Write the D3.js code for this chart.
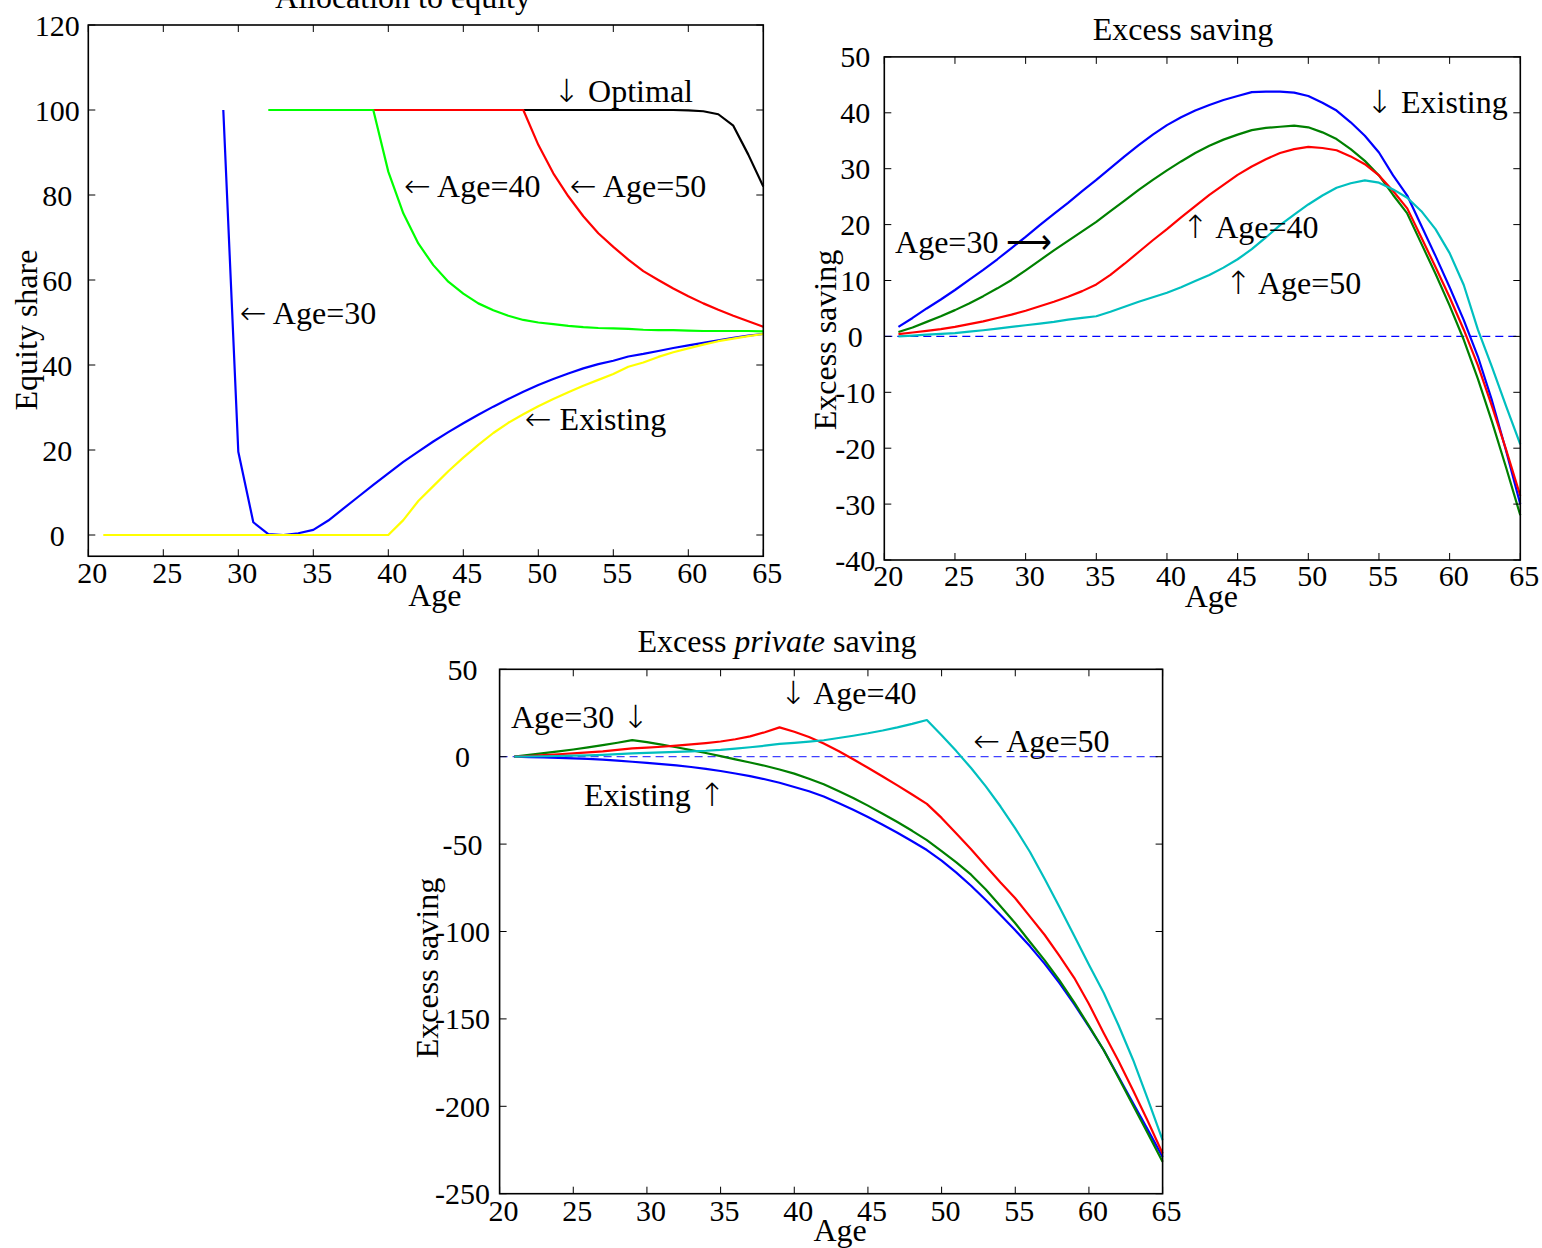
<!DOCTYPE html>
<html>
<head>
<meta charset="utf-8">
<script src="https://cdn.jsdelivr.net/npm/d3@7/dist/d3.min.js"></script>
<style>
body{margin:0;background:#fff;}
svg text{font-family:"Liberation Serif","DejaVu Serif",serif;fill:#000;}
</style>
</head>
<body>
<svg id="fig" width="1542" height="1248"></svg>
<script>
// ---------- data ----------
var ageTicks = [20,25,30,35,40,45,50,55,60,65];

// panel 1 : allocation to equity (each series has its own first age)
var eqTicks = [0,20,40,60,80,100,120];
var eqOptimalStart = 49;
var eqOptimal = [100,100,100,100,100,100,100,100,100,100,100,99.9,99.7,99.0,96.3,89.5,82];
var eqAge50Start = 34;
var eqAge50 = [100,100,100,100,100,100,100,100,100,100,100,100,100,100,100,100,
               91.8,85.1,79.7,75.0,71.0,67.8,64.8,62.1,60.0,58.0,56.2,54.5,53.0,51.6,50.3,49.0];
var eqAge40Start = 32;
var eqAge40 = [100,100,100,100,100,100,100,100,
               85.5,75.7,68.6,63.5,59.6,56.8,54.5,52.9,51.6,50.6,50.0,49.6,49.2,48.9,48.7,
               48.6,48.5,48.3,48.2,48.2,48.1,48.0,48.0,48.0,48.0,47.9];
var eqAge30Start = 29;
var eqAge30 = [100,19.6,3.0,0.2,0,0.4,1.2,3.4,6.2,9.0,11.8,14.5,17.2,19.6,22.0,24.2,26.3,
               28.3,30.2,32.0,33.7,35.3,36.7,38.0,39.2,40.2,41.0,42.0,42.6,43.3,44.0,44.6,
               45.2,45.8,46.4,46.9,47.3];
var eqExistingStart = 21;
var eqExisting = [0,0,0,0,0,0,0,0,0,0,0,0,0,0,0,0,0,0,0,0,
                  3.5,8.0,11.5,15.0,18.2,21.2,24.0,26.4,28.4,30.3,32.0,33.6,35.1,36.5,37.9,
                  39.6,40.6,41.9,43.0,43.9,44.8,45.6,46.2,46.8,47.3];

// panel 2 : excess saving, ages 21..65
var exTicks = [-40,-30,-20,-10,0,10,20,30,40,50];
var exExisting = [1.7,3.3,5.0,6.6,8.3,10.1,11.9,13.8,15.8,17.8,19.9,21.9,23.9,26.0,28.0,
                  30.1,32.2,34.2,36.1,37.8,39.2,40.4,41.4,42.3,43.0,43.7,43.8,43.8,43.6,43.0,
                  41.8,40.4,38.3,35.9,32.9,28.8,25.2,19.8,14.4,8.8,2.9,-3.6,-11.5,-20.5,-30.0];
var exAge30 = [0.8,1.6,2.6,3.6,4.7,5.9,7.2,8.6,10.1,11.8,13.6,15.4,17.1,18.8,20.5,
               22.4,24.3,26.2,28.0,29.7,31.3,32.8,34.1,35.2,36.1,36.9,37.3,37.5,37.7,37.4,
               36.5,35.3,33.5,31.4,28.8,25.3,22.0,16.6,11.2,5.5,-0.6,-7.6,-15.3,-23.5,-32.0];
var exAge40 = [0.4,0.7,1.0,1.3,1.7,2.2,2.7,3.3,3.9,4.6,5.4,6.2,7.1,8.1,9.3,
               11.0,13.0,15.1,17.2,19.2,21.3,23.3,25.3,27.1,28.9,30.4,31.7,32.8,33.5,33.9,
               33.7,33.3,32.2,30.8,28.8,26.0,22.9,17.7,12.4,7.0,1.2,-5.2,-12.5,-20.3,-28.5];
var exAge50 = [0.0,0.15,0.3,0.45,0.6,0.85,1.1,1.4,1.7,2.0,2.3,2.6,3.0,3.3,3.6,
               4.4,5.3,6.2,7.0,7.8,8.8,9.9,11.0,12.3,13.8,15.6,17.7,19.9,21.8,23.6,
               25.2,26.6,27.4,27.9,27.5,26.3,24.8,22.4,19.2,14.9,9.2,1.2,-5.5,-12.5,-19.3];

// panel 3 : excess private saving, ages 21..65
var prTicks = [-250,-200,-150,-100,-50,0,50];
var prExisting = [0,-0.2,-0.4,-0.7,-1.0,-1.3,-1.7,-2.2,-2.9,-3.5,-4.2,-5.0,-5.9,-7.0,-8.2,
                  -9.6,-11.1,-12.9,-14.9,-17.3,-19.8,-22.8,-26.5,-30.4,-34.5,-38.9,-43.5,-48.4,-53.4,-59.5,
                  -66.3,-73.8,-82,-90.6,-99.3,-108.5,-118.5,-129.5,-141.5,-154.5,-167.8,-183,-198.3,-213.5,-229];
var prAge30 = [0,1.0,2.0,3.0,4.1,5.3,6.6,8.0,9.5,8.3,6.9,5.4,3.8,2.1,0.3,
               -1.5,-3.3,-5.2,-7.3,-9.7,-12.6,-15.8,-19.6,-23.6,-28,-32.6,-37.4,-42.4,-47.7,-54,
               -60.5,-67.5,-76,-85.5,-95.3,-106,-116.5,-128,-140.5,-154,-167.8,-183.5,-199.5,-215.5,-231.7];
var prAge40 = [0,0.4,0.9,1.4,1.9,2.5,3.1,3.9,4.8,5.2,5.7,6.3,7.0,7.8,8.7,
               10.0,11.6,14.0,16.8,14.3,11.3,7.5,3.3,-1.5,-6.3,-11.3,-16.4,-21.6,-27,-35,
               -44,-53,-62.5,-72,-81,-91.5,-102,-114,-126.5,-141.5,-158,-174,-191,-208.5,-227];
var prAge50 = [0,0.1,0.25,0.4,0.6,0.8,1.1,1.5,1.9,2.2,2.5,2.8,3.1,3.4,3.9,
               4.6,5.4,6.3,7.3,7.9,8.6,9.4,10.7,12.0,13.4,15.0,16.8,18.8,21.0,12.3,
               3.2,-6.5,-17,-28.5,-41,-54.5,-70,-86,-102.5,-119,-135,-153.5,-173.5,-196,-219.3];

// ---------- drawing ----------
var svg = d3.select('#fig');

var toPoints = function(start, vals){
    return vals.map(function(v, i){ return {age: start + i, v: v}; });
};

// arrows get a font whose arrow glyphs are closer to the TeX ones
var addRichText = function(sel, str){
    str.split(/([\u2190\u2191\u2193\u27f6])/).forEach(function(part){
        if(!part) return;
        var isArrow = /[\u2190\u2191\u2193\u27f6]/.test(part);
        sel.append('tspan')
            .style('font-family', isArrow ? '"DejaVu Sans",sans-serif' : null)
            .attr('font-weight', isArrow ? 200 : null)
            .text(part);
    });
};

var drawPanel = function(p){
    var x = d3.scaleLinear().domain([20,65]).range([p.left, p.right]);
    var y = d3.scaleLinear().domain(p.ydom).range([p.bottom, p.top]);
    var g = svg.append('g');
    var tl = 7;

    if(p.zeroLine){
        g.append('line')
            .attr('x1', x(20)).attr('x2', x(65))
            .attr('y1', y(0)).attr('y2', y(0))
            .attr('stroke', '#0000ff').attr('stroke-width', 1.3)
            .attr('stroke-opacity', p.zeroOpacity || 1)
            .attr('stroke-dasharray', '8,5');
    }

    var line = d3.line().x(function(d){return x(d.age);}).y(function(d){return y(d.v);});
    p.series.forEach(function(s){
        g.append('path')
            .datum(toPoints(s.start, s.vals))
            .attr('d', line)
            .attr('fill', 'none')
            .attr('stroke', s.color).attr('stroke-width', 2.2)
            .attr('stroke-linejoin', 'round');
    });

    // frame
    g.append('rect')
        .attr('x', p.left).attr('y', p.top)
        .attr('width', p.right - p.left).attr('height', p.bottom - p.top)
        .attr('fill', 'none').attr('stroke', '#000').attr('stroke-width', 1.6);

    // inward ticks on all four sides
    ageTicks.forEach(function(t){
        g.append('line').attr('x1', x(t)).attr('x2', x(t))
            .attr('y1', p.bottom).attr('y2', p.bottom - tl).attr('stroke', '#000');
        g.append('line').attr('x1', x(t)).attr('x2', x(t))
            .attr('y1', p.top).attr('y2', p.top + tl).attr('stroke', '#000');
        g.append('text').attr('x', x(t) + 4).attr('y', p.bottom + p.xtickOff)
            .attr('text-anchor', 'middle').attr('font-size', 30).text(t);
    });
    p.yticks.forEach(function(t){
        g.append('line').attr('x1', p.left).attr('x2', p.left + tl)
            .attr('y1', y(t)).attr('y2', y(t)).attr('stroke', '#000');
        g.append('line').attr('x1', p.right).attr('x2', p.right - tl)
            .attr('y1', y(t)).attr('y2', y(t)).attr('stroke', '#000');
        g.append('text').attr('x', p.left - p.ylabOff).attr('y', y(t))
            .attr('dy', '0.35em')
            .attr('text-anchor', 'middle').attr('font-size', 30).text(String(t));
    });

    // titles and axis labels
    var title = g.append('text').attr('x', p.titleX).attr('y', p.titleY)
        .attr('text-anchor', 'middle').attr('font-size', 32);
    p.title.forEach(function(part){
        title.append('tspan').attr('font-style', part.italic ? 'italic' : 'normal').text(part.t);
    });
    g.append('text').attr('x', (p.left + p.right)/2 + 9).attr('y', p.bottom + p.xlabOff)
        .attr('text-anchor', 'middle').attr('font-size', 32).text('Age');
    g.append('text')
        .attr('transform', 'translate(' + p.ylabelX + ',' + p.ylabelY + ') rotate(-90)')
        .attr('text-anchor', 'middle').attr('font-size', 32).text(p.ylabel);

    // annotations
    p.notes.forEach(function(n){
        var t = g.append('text').attr('x', x(n.age)).attr('y', y(n.v))
            .attr('font-size', 32);
        addRichText(t, n.t);
    });
};

drawPanel({
    left: 88.3, right: 763.3, top: 25, bottom: 556.25,
    ydom: [-5, 120], yticks: eqTicks, ylabOff: 31, xtickOff: 27, xlabOff: 50,
    title: [{t: 'Allocation to equity'}], titleX: 403, titleY: 8,
    ylabel: 'Equity share', ylabelX: 37, ylabelY: 330,
    series: [
        {start: eqOptimalStart, vals: eqOptimal, color: '#000000'},
        {start: eqAge50Start, vals: eqAge50, color: '#ff0000'},
        {start: eqAge40Start, vals: eqAge40, color: '#00ff00'},
        {start: eqAge30Start, vals: eqAge30, color: '#0000ff'},
        {start: eqExistingStart, vals: eqExisting, color: '#ffff00'}
    ],
    notes: [
        {age: 51.0, v: 101.9, t: '\u2193 Optimal'},
        {age: 41.05, v: 79.5, t: '\u2190 Age=40'},
        {age: 52.1, v: 79.5, t: '\u2190 Age=50'},
        {age: 30.1, v: 49.6, t: '\u2190 Age=30'},
        {age: 49.1, v: 24.7, t: '\u2190 Existing'}
    ]
});

drawPanel({
    left: 884.3, right: 1520.3, top: 56.9, bottom: 560,
    ydom: [-40, 50], yticks: exTicks, ylabOff: 29, xtickOff: 26, xlabOff: 47, zeroLine: true,
    title: [{t: 'Excess saving'}], titleX: 1183, titleY: 40,
    ylabel: 'Excess saving', ylabelX: 836, ylabelY: 340,
    series: [
        {start: 21, vals: exExisting, color: '#0000ff'},
        {start: 21, vals: exAge30, color: '#008000'},
        {start: 21, vals: exAge40, color: '#ff0000'},
        {start: 21, vals: exAge50, color: '#00bfbf'}
    ],
    notes: [
        {age: 54.1, v: 40.0, t: '\u2193 Existing'},
        {age: 20.76, v: 14.9, t: 'Age=30 \u27f6'},
        {age: 41.07, v: 17.6, t: '\u2191 Age=40'},
        {age: 44.1, v: 7.6, t: '\u2191 Age=50'}
    ]
});

drawPanel({
    left: 499.6, right: 1162.6, top: 669.3, bottom: 1193.7,
    ydom: [-250, 50], yticks: prTicks, ylabOff: 37, xtickOff: 27, xlabOff: 47,
    zeroLine: true, zeroOpacity: 0.75,
    title: [{t: 'Excess '}, {t: 'private', italic: true}, {t: ' saving'}], titleX: 777, titleY: 652,
    ylabel: 'Excess saving', ylabelX: 438, ylabelY: 968,
    series: [
        {start: 21, vals: prExisting, color: '#0000ff'},
        {start: 21, vals: prAge30, color: '#008000'},
        {start: 21, vals: prAge40, color: '#ff0000'},
        {start: 21, vals: prAge50, color: '#00bfbf'}
    ],
    notes: [
        {age: 20.77, v: 16.4, t: 'Age=30 \u2193'},
        {age: 39.04, v: 30.1, t: '\u2193 Age=40'},
        {age: 52.14, v: 2.7, t: '\u2190 Age=50'},
        {age: 25.73, v: -28.2, t: 'Existing \u2191'}
    ]
});
</script>
</body>
</html>
